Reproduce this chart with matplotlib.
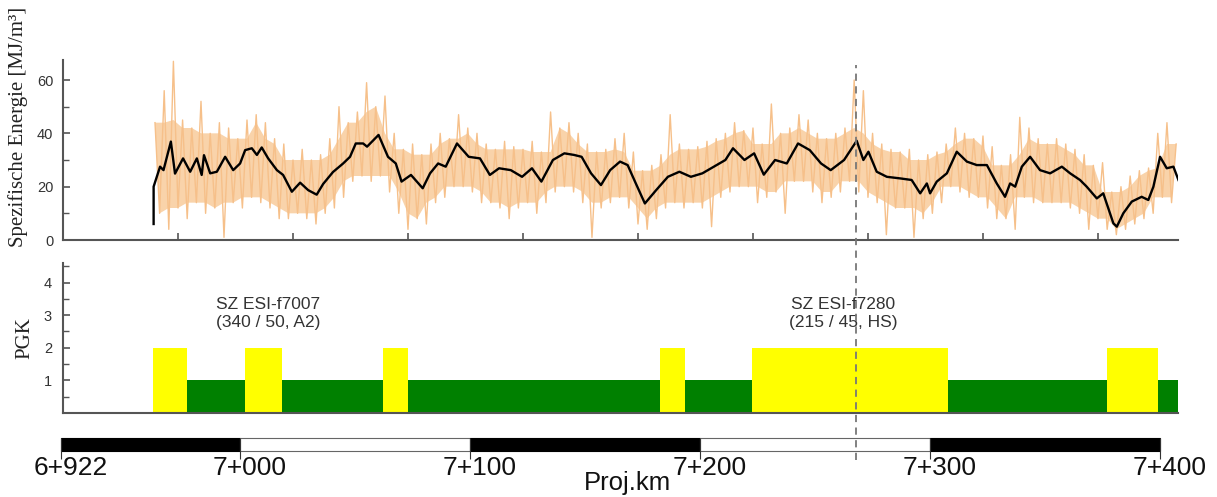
import numpy as np
import matplotlib
matplotlib.use("Agg")
import matplotlib.pyplot as plt
from matplotlib import transforms
from matplotlib.lines import Line2D
from matplotlib.patches import Polygon
from matplotlib.ticker import FixedLocator

# ---------------- data ----------------
# black running-mean line (chainage in m, specific energy MJ/m3)
black_km = [6962.4, 6962.4, 6965.2, 6966.7, 6969.9, 6971.7, 6975.2, 6978.3, 6981.2, 6983.3,
            6984.3, 6987.0, 6989.9, 6993.5, 6997.0, 7000.0, 7002.2, 7005.1, 7007.3, 7009.4,
            7012.2, 7016.0, 7018.7, 7022.5, 7026.1, 7029.6, 7033.3, 7036.1, 7040.4, 7044.8,
            7047.8, 7050.3, 7053.5, 7055.2, 7060.2, 7064.3, 7067.7, 7070.2, 7074.3, 7079.4,
            7082.6, 7086.1, 7089.4, 7094.3, 7099.4, 7104.3, 7108.6, 7112.6, 7117.7, 7122.6,
            7126.9, 7131.0, 7136.0, 7141.0, 7145.2, 7148.5, 7152.6, 7156.9, 7160.9, 7165.2,
            7168.5, 7171.7, 7176.0, 7180.9, 7186.0, 7191.0, 7196.0, 7201.0, 7206.0, 7211.0,
            7214.3, 7219.3, 7223.5, 7227.7, 7232.6, 7237.7, 7242.6, 7247.7, 7252.6, 7256.8,
            7262.6, 7268.1, 7271.0, 7273.2, 7276.8, 7281.2, 7287.0, 7292.0, 7295.7, 7298.6,
            7300.0, 7302.9, 7307.3, 7311.6, 7316.0, 7320.3, 7324.7, 7329.0, 7332.6, 7334.8,
            7337.0, 7339.9, 7343.5, 7347.8, 7352.2, 7357.3, 7360.9, 7365.2, 7368.1, 7372.5,
            7375.3, 7379.7, 7381.2, 7384.0, 7387.7, 7392.0, 7394.9, 7397.1, 7400.0, 7402.9,
            7405.8, 7408.0]
black_val = [6, 20, 27.5, 26.2, 36.9, 24.9, 30.6, 25.6, 30.6, 24.4,
             31.8, 25, 25.6, 31.2, 26.2, 28.7, 33.7, 34.4, 31.9, 34.7,
             30.6, 26.2, 24.4, 18.1, 21.5, 18.7, 17.0, 21.0, 25.5, 28.7,
             31.2, 36.2, 36.2, 35, 39.4, 31.2, 28.7, 21.9, 24.4, 19.4,
             25, 28.7, 27.5, 36.2, 31.2, 30.6, 24.4, 26.9, 26.2, 23.7,
             26.9, 21.9, 30, 32.5, 31.9, 31.2, 25, 20.6, 26.2, 29.4,
             28.1, 21.9, 13.7, 18.7, 23.7, 25.6, 23.7, 25, 27.5, 30,
             34.4, 30, 32.5, 24.5, 30, 28.7, 36.2, 33.7, 28.7, 26.2,
             30, 37.2, 30, 33.1, 25.6, 23.7, 23.1, 22.5, 17.5, 21.2,
             17.5, 21.9, 25, 33.1, 29.4, 28.1, 28.1, 21.2, 16.2, 21.2,
             20, 27.5, 31.2, 26.2, 25, 27.5, 25, 22.5, 20, 15.6,
             17.5, 6.25, 5, 10, 14.4, 16.2, 15, 20, 31.2, 26.9,
             27.5, 22.5]

# raw signal (orange): alternating peaks / troughs, 4 m apart each
raw_start_hi = 6963
raw_start_lo = 6965
raw_step = 4
raw_hi = [44, 56, 67, 45, 42, 52, 40, 44, 42, 38,
          45, 47, 44, 38, 36, 30, 34, 30, 32, 38,
          50, 44, 48, 59, 50, 54, 40, 34, 36, 32,
          36, 40, 38, 47, 42, 40, 36, 34, 37, 35,
          34, 37, 33, 48, 42, 44, 40, 36, 33, 34,
          38, 40, 33, 26, 28, 32, 47, 36, 34, 35,
          37, 38, 40, 44, 41, 42, 36, 51, 40, 42,
          47, 45, 40, 38, 40, 42, 60, 56, 40, 36,
          34, 33, 34, 30, 32, 33, 36, 42, 40, 38,
          39, 35, 28, 32, 46, 42, 38, 36, 38, 36,
          34, 32, 28, 29, 18, 20, 24, 26, 27, 40,
          44, 36]
raw_lo = [10, 4, 12, 8, 14, 10, 12, 1, 14, 12,
          16, 14, 12, 8, 8, 10, 8, 6, 10, 12,
          16, 22, 24, 22, 24, 18, 10, 4, 8, 6,
          14, 16, 20, 20, 18, 14, 14, 12, 8, 12,
          14, 10, 14, 18, 20, 18, 14, 1, 12, 14,
          16, 12, 6, 4, 8, 12, 14, 12, 14, 12,
          5, 16, 18, 20, 20, 14, 16, 18, 10, 22,
          22, 18, 14, 16, 18, 22, 18, 16, 14, 2,
          12, 12, 1, 8, 10, 14, 20, 18, 16, 16,
          12, 8, 8, 4, 16, 14, 14, 14, 14, 12,
          10, 4, 8, 4, 2, 4, 6, 8, 10, 16,
          14]

energy_ticks = [6973, 7023, 7073, 7123, 7173, 7223, 7273, 7323, 7373]
marker_km = 7267.8

# PGK classes
pgk_edges = [6962.2, 6977.0, 7002.2, 7018.3, 7062.2, 7073.0, 7182.6, 7193.5,
             7222.6, 7307.8, 7377.0, 7399.1, 7407.8]
pgk_class = [2, 1, 2, 1, 2, 1, 2, 1, 2, 1, 2, 1]

annot_km = [7012.2, 7262.2]
annot_text = ["SZ ESI-f7007\n(340 / 50, A2)", "SZ ESI-f7280\n(215 / 45, HS)"]

# chainage scale bar
scale_km = [6922, 7000, 7100, 7200, 7300, 7400]
scale_labels = ["6+922", "7+000", "7+100", "7+200", "7+300", "7+400"]

# ---------------- figure ----------------
W, H = 1217, 497
fig = plt.figure(figsize=(W / 100, H / 100), dpi=100)
X0, X1 = 6923.0, 7407.8
sans = ["Liberation Sans", "DejaVu Sans"]
serif = ["Liberation Serif", "DejaVu Serif"]
spine_c = "#555555"

left = 63 / W
width = (1178 - 63) / W

# top panel
ax1 = fig.add_axes([left, 1 - 240 / H, width, 180 / H])
hi_x = raw_start_hi + raw_step * np.arange(len(raw_hi))
lo_x = raw_start_lo + raw_step * np.arange(len(raw_lo))
hi_arr = np.asarray(raw_hi, float)
lo_arr = np.asarray(raw_lo, float)
zz_x = np.empty(len(hi_arr) + len(lo_arr))
zz_y = np.empty_like(zz_x)
zz_x[0::2], zz_y[0::2] = hi_x, hi_arr
zz_x[1::2], zz_y[1::2] = lo_x, lo_arr
# dense core of the raw signal: isolated needles excluded (3-point min of peaks,
# 3-point max of troughs); the needles themselves stay in the zigzag trace
pad_hi = np.pad(hi_arr, 1, mode="edge")
pad_lo = np.pad(lo_arr, 1, mode="edge")
core_hi = np.minimum(np.minimum(pad_hi[:-2], pad_hi[1:-1]), pad_hi[2:])
core_lo = np.maximum(np.maximum(pad_lo[:-2], pad_lo[1:-1]), pad_lo[2:])
env = np.column_stack([np.concatenate([hi_x, lo_x[::-1]]),
                       np.concatenate([core_hi, core_lo[::-1]])])
ax1.add_patch(Polygon(env, closed=True, facecolor="#f9d3aa", edgecolor="none", zorder=0.5))
ax1.plot(zz_x, zz_y, color="#f6c08a", lw=1.0, zorder=1)
ax1.plot(black_km, black_val, color="black", lw=1.7, zorder=2)
ax1.set_xlim(X0, X1)
ax1.set_ylim(0, 67.5)
ax1.set_yticks([0, 20, 40, 60])
ax1.yaxis.set_minor_locator(FixedLocator([10, 30, 50]))
ax1.set_xticks(energy_ticks)
ax1.set_xticklabels([])

# bottom panel
ax2 = fig.add_axes([left, 1 - 413 / H, width, 150 / H])
lefts = pgk_edges[:-1]
widths = np.diff(pgk_edges)
cols = ["#ffff00" if c == 2 else "#008000" for c in pgk_class]
ax2.bar(lefts, pgk_class, width=widths, align="edge", color=cols, linewidth=0, zorder=1)
ax2.set_xlim(X0, X1)
ax2.set_ylim(0, 4.6)
ax2.set_yticks([1, 2, 3, 4])
ax2.yaxis.set_minor_locator(FixedLocator([0.5, 1.5, 2.5, 3.5, 4.5]))
ax2.set_xticks([])
for k, t in zip(annot_km, annot_text):
    ax2.text(k, 3.04, t, ha="center", va="center", fontsize=12.5, color="#333333",
             family=sans, linespacing=1.25)

for ax in (ax1, ax2):
    for s in ("top", "right"):
        ax.spines[s].set_visible(False)
    for s in ("left", "bottom"):
        ax.spines[s].set_color(spine_c)
        ax.spines[s].set_linewidth(1.5)
        ax.spines[s].set_zorder(3)
    ax.tick_params(which="major", direction="in", length=5, width=1.2, color=spine_c,
                   labelsize=10.5, labelcolor="#333333", pad=6)
    ax.tick_params(which="minor", direction="in", length=4, width=1.0, color=spine_c)
    for lab in ax.get_yticklabels():
        lab.set_family(sans)
ax1.tick_params(axis="y", pad=7)
ax2.tick_params(axis="y", pad=8)

# scale bar
ax3 = fig.add_axes([left, 1 - 470 / H, width, 40 / H])
ax3.set_xlim(X0, X1)
ax3.set_ylim(0, 40)
ax3.axis("off")
for i in range(len(scale_km) - 1):
    black = i % 2 == 0
    ax3.bar(scale_km[i], 13, width=scale_km[i + 1] - scale_km[i], bottom=19.5, align="edge",
            color="black" if black else "white", edgecolor="black" if black else "#666666",
            linewidth=0.8, clip_on=False)
ax3.vlines(scale_km, 11, 32.5, color="#333333", lw=0.8, clip_on=False)
for k, lab in zip(scale_km, scale_labels):
    ax3.annotate(lab, xy=(k, 2), xytext=(7, 0), textcoords="offset points", ha="center",
                 va="center", fontsize=19, family=sans, color="#111111",
                 annotation_clip=False)
fig.text(628 / W, 7 / H, "Proj.km", ha="center", va="baseline", fontsize=18.5,
         family=sans, color="#111111")

# labels
fig.text(18 / W, 1 - 127 / H, "Spezifische Energie [MJ/m³]", rotation=90, ha="center",
         va="center", fontsize=15, family=serif, color="#222222")
fig.text(25 / W, 1 - 338 / H, "PGK", rotation=90, ha="center", va="center", fontsize=15,
         family=serif, color="#222222")

# dashed marker line through all panels
trans = transforms.blended_transform_factory(ax1.transData, fig.transFigure)
fig.add_artist(Line2D([marker_km, marker_km], [1 - 460 / H, 1 - 65 / H], transform=trans,
                      color="#777777", lw=1.3, dashes=(4, 3), zorder=5))

fig.savefig("out.png", dpi=100)
